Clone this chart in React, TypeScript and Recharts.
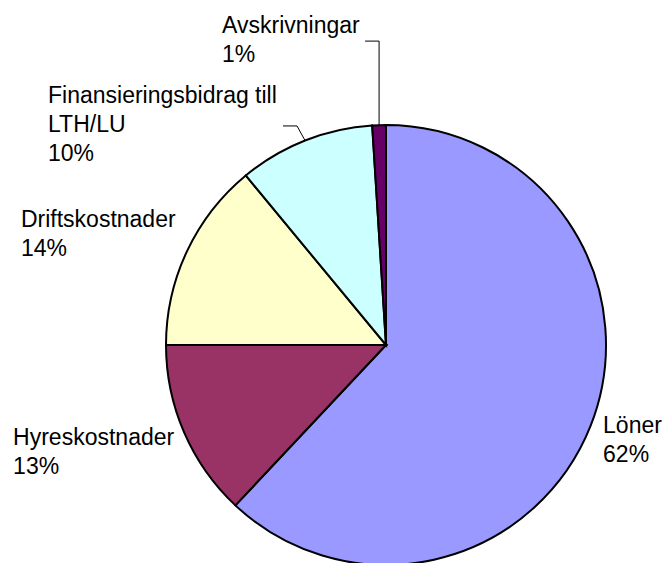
import React from 'react';
import { PieChart, Pie, Cell } from 'recharts';

const categories = ['Löner', 'Hyreskostnader', 'Driftskostnader', 'Finansieringsbidrag till LTH/LU', 'Avskrivningar'];
const values = [62, 13, 14, 10, 1];
const labelLines = [['Löner'], ['Hyreskostnader'], ['Driftskostnader'], ['Finansieringsbidrag till', 'LTH/LU'], ['Avskrivningar']];
const colors = ['#9999FF', '#993366', '#FFFFCC', '#CCFFFF', '#660066'];

const data = categories.map((name, i) => ({ name, value: values[i] }));

// label placement relative to the slice's outer mid point
const LABEL_LAYOUT = [
  { dx: 12.5, dy: 7, leader: null },
  { dx: -171, dy: 13, leader: null },
  { dx: -166, dy: -24, leader: null },
  { dx: -257, dy: -37.5, leader: [[-8, -14.5], [-22, -14.5]] },
  { dx: -157, dy: -92, leader: [[0, -84], [-14, -84]] },
];

const RAD = Math.PI / 180;
const LINE_H = 29;

const renderLabel = (props: any) => {
  const { cx, cy, midAngle, outerRadius, percent, index } = props;
  const ax = cx + outerRadius * Math.cos(-midAngle * RAD);
  const ay = cy + outerRadius * Math.sin(-midAngle * RAD);
  const lay = LABEL_LAYOUT[index];
  const lines = [...labelLines[index], `${Math.round(percent * 100)}%`];
  const x = ax + lay.dx;
  const y = ay + lay.dy;
  let path = '';
  if (lay.leader) {
    path = `M${ax},${ay}` + lay.leader.map((p) => ` L${ax + p[0]},${ay + p[1]}`).join('');
  }
  return (
    <g key={`lbl-${index}`}>
      {path && <path d={path} stroke="#000" strokeWidth={1} fill="none" />}
      <text x={x} y={y} fill="#000" fontSize={23} fontFamily="'Liberation Sans', Arial, sans-serif" textAnchor="start">
        {lines.map((l, i) => (
          <tspan key={i} x={x} y={y + i * LINE_H}>{l}</tspan>
        ))}
      </text>
    </g>
  );
};

export default function App() {
  return (
    <div style={{ position: 'fixed', left: 0, top: 0, width: 666, height: 563, background: '#fff' }}>
      <PieChart width={666} height={563} margin={{ top: 0, right: 0, bottom: 0, left: 0 }}>
        <Pie
          data={data}
          dataKey="value"
          nameKey="name"
          cx={386}
          cy={345}
          outerRadius={220}
          startAngle={90}
          endAngle={-270}
          stroke="#000"
          strokeWidth={2}
          label={renderLabel}
          labelLine={false}
          isAnimationActive={false}
        >
          {data.map((d, i) => (
            <Cell key={d.name} fill={colors[i]} stroke="#000" strokeWidth={2} />
          ))}
        </Pie>
      </PieChart>
    </div>
  );
}
